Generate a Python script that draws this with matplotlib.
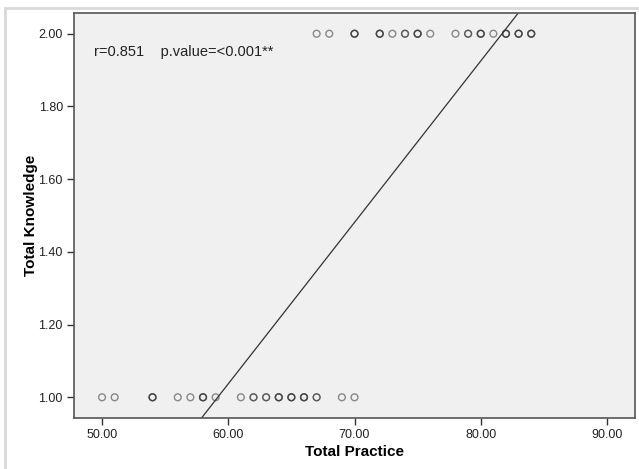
import matplotlib
matplotlib.use('Agg')
from matplotlib import pyplot as plt
from matplotlib.patches import Rectangle

plt.rcParams['font.family'] = ['Liberation Sans', 'DejaVu Sans']

# knowledge = 1 group: practice score and how many cases overlap there
low_x = [50, 51, 54, 56, 57, 58, 59, 61, 62, 63, 64, 65, 66, 67, 69, 70]
low_n = [1, 1, 3, 1, 1, 3, 1, 1, 2, 2, 3, 3, 3, 2, 1, 1]
# knowledge = 2 group
high_x = [67, 68, 70, 72, 73, 74, 75, 76, 78, 79, 80, 81, 82, 83, 84]
high_n = [1, 1, 3, 3, 1, 2, 3, 1, 1, 2, 3, 1, 3, 3, 3]

# fit line
intercept = -1.627
slope = 0.0444

xticks = [50, 60, 70, 80, 90]
yticks = [1.0, 1.2, 1.4, 1.6, 1.8, 2.0]

fig = plt.figure(figsize=(6.39, 4.69), dpi=100)
W, H = 639, 469
ax = fig.add_axes([74 / W, 1 - 418 / H, (635 - 74) / W, (418 - 13) / H])
ax.set_facecolor('#f0f0f0')

# outer light frame
fig.patches.append(Rectangle((5 / W, -0.1), 1.2, 1 - 8 / H + 0.1,
                             transform=fig.transFigure, fill=False,
                             edgecolor='#d9d9d9', linewidth=2))

edge = (0.2, 0.2, 0.2, 0.55)
for xs, ns, yv in [(low_x, low_n, 1.0), (high_x, high_n, 2.0)]:
    for x, n in zip(xs, ns):
        for k in range(n):
            ax.scatter([x], [yv], s=24, facecolors='none', edgecolors=[edge],
                       linewidths=1.0, zorder=3)

xl = (47.78, 92.22)
ax.plot(xl, [intercept + slope * xl[0], intercept + slope * xl[1]],
        color='#333333', linewidth=0.9, zorder=2)

ax.set_xlim(xl)
ax.set_ylim(0.943, 2.057)
ax.set_xticks(xticks)
ax.set_xticklabels(['%.2f' % v for v in xticks])
ax.set_yticks(yticks)
ax.set_yticklabels(['%.2f' % v for v in yticks])
ax.tick_params(direction='out', length=5, width=1, color='#333333',
               labelsize=9, labelcolor='#222222', pad=3)

for s in ax.spines.values():
    s.set_color('#555555')
    s.set_linewidth(1.2)

ax.set_xlabel('Total Practice', fontsize=11, fontweight='bold')
ax.set_ylabel('Total Knowledge', fontsize=11, fontweight='bold')
ax.xaxis.set_label_coords(0.5, -(452 - 418) / 405)
ax.yaxis.set_label_coords(-(74 - 31) / 561, 0.5)
ax.xaxis.label.set_va('center')
ax.yaxis.label.set_va('center')

ax.text((94 - 74) / 561, 1 - (52 - 13) / 405, 'r=0.851    p.value=<0.001**',
        transform=ax.transAxes, fontsize=10.5, color='#222222',
        va='center', ha='left')

plt.savefig('out.png', dpi=100)
